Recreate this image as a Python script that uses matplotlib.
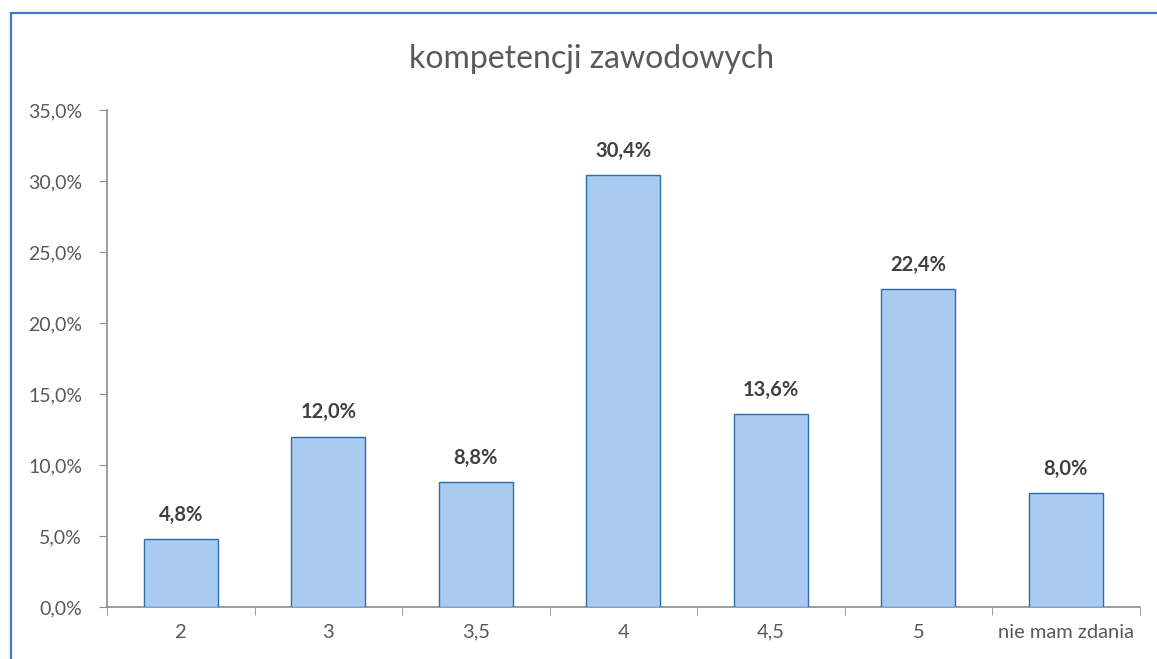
import matplotlib
matplotlib.use('Agg')
import matplotlib.pyplot as plt
from matplotlib.patches import Rectangle
from matplotlib.ticker import FuncFormatter, FixedLocator

# Data
categories = ['2', '3', '3,5', '4', '4,5', '5', 'nie mam zdania']
values = [4.8, 12.0, 8.8, 30.4, 13.6, 22.4, 8.0]
title = 'kompetencji zawodowych'

plt.rcParams['font.family'] = ['Lato', 'DejaVu Sans']

fig = plt.figure(figsize=(11.57, 6.59), dpi=100)
ax = fig.add_axes([0.0925, 0.079, 0.8925, 0.754])

# Outer blue frame of the chart area (cut off at right and bottom)
fig.patches.append(Rectangle((11 / 1157, -0.05), 1.2, 1 - 13 / 659 + 0.05,
                             transform=fig.transFigure, fill=False,
                             edgecolor='#3c7cc4', linewidth=1.6))

x = list(range(len(categories)))
ax.bar(x, values, width=0.5, color='#a9cbf2', edgecolor='#2a6ea8', linewidth=1.0, zorder=3)

for xi, v in zip(x, values):
    ax.text(xi, v + 1.0, f'{v:.1f}%'.replace('.', ','), ha='center', va='bottom',
            fontsize=14.5, fontweight='bold', color='#404040')

ax.set_xlim(-0.5, len(categories) - 0.5)
ax.set_ylim(0, 35)
ax.set_yticks([0, 5, 10, 15, 20, 25, 30, 35])
ax.yaxis.set_major_formatter(FuncFormatter(lambda v, p: f'{v:.1f}%'.replace('.', ',')))

ax.set_xticks(x)
ax.set_xticklabels(categories)
ax.xaxis.set_minor_locator(FixedLocator([i - 0.5 for i in range(len(categories) + 1)]))
ax.tick_params(axis='x', which='major', length=0, pad=12, labelsize=14.5, labelcolor='#595959')
ax.tick_params(axis='x', which='minor', length=6, direction='out', color='#8c8c8c')
ax.tick_params(axis='y', length=6, direction='out', color='#8c8c8c', labelsize=14,
               labelcolor='#595959', pad=12)

for s in ['top', 'right']:
    ax.spines[s].set_visible(False)
for s in ['left', 'bottom']:
    ax.spines[s].set_color('#8c8c8c')
    ax.spines[s].set_linewidth(1.2)

fig.text(0.511, 0.91, title, ha='center', va='center', fontsize=23,
         color='#595959')

fig.savefig('out.png', dpi=100)
